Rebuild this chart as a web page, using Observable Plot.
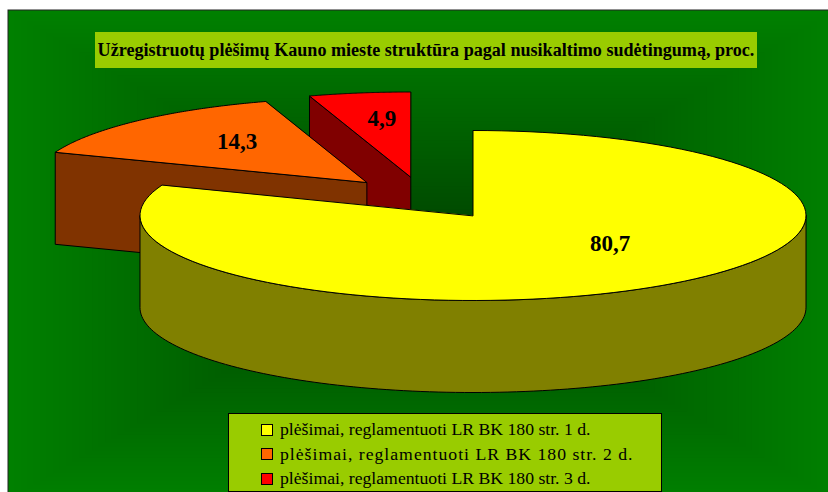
<!DOCTYPE html>
<html lang="lt">
<head>
<meta charset="utf-8">
<script src="https://cdn.jsdelivr.net/npm/d3@7"></script>
<script src="https://cdn.jsdelivr.net/npm/@observablehq/plot@0.6"></script>
<style>
  html, body { margin: 0; padding: 0; background: #fff; }
  #chart { position: relative; width: 828px; height: 492px; overflow: hidden; font-family: "Liberation Serif", serif; }
  #chart svg { position: absolute; left: 0; top: 0; }
  #title { position: absolute; left: 95px; top: 32px; width: 662px; height: 36px; line-height: 36px; background: #99cc00; color: #000;
           font-weight: bold; font-size: 18.1px; text-align: center; white-space: nowrap; }
  #legend { position: absolute; left: 228px; top: 413px; width: 432px; height: 77px; background: #99cc00; border: 1px solid #000; box-sizing: content-box; }
  .row { position: absolute; left: 32px; display: flex; align-items: center; height: 16px; white-space: nowrap; color: #000; }
  .sw { width: 10px; height: 10px; border: 1px solid #000; margin-right: 7px; flex: none; }
</style>
</head>
<body>
<div id="chart"></div>
<script>
// Data
const titleText = "Užregistruotų plėšimų Kauno mieste struktūra pagal nusikaltimo sudėtingumą, proc.";
const categories = ["plėšimai, reglamentuoti LR BK 180 str. 1 d.", "plėšimai, reglamentuoti LR BK 180 str. 2 d.", "plėšimai, reglamentuoti LR BK 180 str. 3 d."];
const values = [80.7, 14.3, 4.9];
const valueLabels = ["80,7", "14,3", "4,9"];
const topColors = ["#ffff00", "#ff6600", "#ff0000"];
const wallColors = ["#808000", "#803300", "#800000"];

// Layout of the projected pie
const rx = 333, ry = 85, depth = 92;
const apexX = [472.5, 366, 410];
const apexY = [215, 182, 176.5];
const labelX = [0.725, 0.565, 0.56];
const labelY = [0.40, 0.67, 0.70];
const legendFont = [[17.7, 0], [17.7, 1], [17.7, 0]];
const bgFrame = {x1: 8, x2: 836, y1: 10, y2: 500};

// Angles run clockwise from north
const total = d3.sum(values);
const cum = d3.cumsum(values);
const slices = values.map((v, i) => ({
  i, a0: (cum[i] - v) / total * 2 * Math.PI, a1: cum[i] / total * 2 * Math.PI
}));
const pt = (s, a, r = 1, dz = 0) => ({
  x: apexX[s.i] + rx * r * Math.sin(a),
  y: apexY[s.i] - ry * r * Math.cos(a) + dz
});
const arc = (s, a0, a1, dz = 0) => d3.range(0, 121).map(k => pt(s, a0 + (a1 - a0) * k / 120, 1, dz));
const topFace = s => [pt(s, 0, 0), ...arc(s, s.a0, s.a1)];
const radialWall = s => [pt(s, 0, 0), pt(s, s.a0), pt(s, s.a0, 1, depth), pt(s, 0, 0, depth)];
const rimWall = s => {
  const a0 = Math.PI / 2, a1 = 1.5 * Math.PI;
  return [...arc(s, a0, a1), ...arc(s, a1, a0, depth)];
};
const poly = (pts, fill) => Plot.line(pts, {x: "x", y: "y", curve: "linear-closed", fill, stroke: "#000", strokeWidth: 1});

// Rectangular "from centre" background gradient
const steps = d3.range(64, 0, -1).map(k => {
  const t = k / 64, cx = (bgFrame.x1 + bgFrame.x2) / 2, cy = (bgFrame.y1 + bgFrame.y2) / 2;
  const hw = (bgFrame.x2 - bgFrame.x1) / 2 * t, hh = (bgFrame.y2 - bgFrame.y1) / 2 * t;
  return {x1: cx - hw, x2: cx + hw, y1: cy - hh, y2: cy + hh, c: `rgb(0,${Math.round(64 + 64 * t)},0)`};
});

const [yellow, orange, red] = slices;
const labels = slices.map(s => {
  const mid = (s.a0 + s.a1) / 2;
  return {
    x: apexX[s.i] + rx * labelX[s.i] * Math.sin(mid),
    y: apexY[s.i] - ry * labelY[s.i] * Math.cos(mid),
    t: valueLabels[s.i]
  };
});

const plot = Plot.plot({
  width: 828, height: 492, margin: 0,
  x: {axis: null, domain: [0, 828], range: [0, 828]},
  y: {axis: null, domain: [0, 492], range: [0, 492]},
  style: {background: "#fff"},
  marks: [
    Plot.rect(steps, {x1: "x1", x2: "x2", y1: "y1", y2: "y2", fill: {value: "c", scale: null}}),
    Plot.rect([bgFrame], {x1: "x1", x2: "x2", y1: "y1", y2: "y2", fill: "none", stroke: "#222", strokeWidth: 1}),
    poly(radialWall(red), wallColors[2]),
    poly(topFace(red), topColors[2]),
    poly(radialWall(orange), wallColors[1]),
    poly(topFace(orange), topColors[1]),
    poly(rimWall(yellow), wallColors[0]),
    poly(topFace(yellow), topColors[0]),
    Plot.text(labels, {x: "x", y: "y", text: "t", fontFamily: "Liberation Serif", fontWeight: "bold", fontSize: 23, fill: "#000"})
  ]
});

const chart = document.getElementById("chart");
chart.appendChild(plot);
const titleBox = document.createElement("div");
titleBox.id = "title";
titleBox.textContent = titleText;
chart.appendChild(titleBox);
const legendBox = document.createElement("div");
legendBox.id = "legend";
categories.forEach((c, i) => {
  const row = document.createElement("div");
  row.className = "row";
  row.style.top = (7.5 + i * 24.7) + "px";
  const sw = document.createElement("span");
  sw.className = "sw";
  sw.style.background = topColors[i];
  const tx = document.createElement("span");
  tx.textContent = c;
  tx.style.fontSize = legendFont[i][0] + "px";
  tx.style.letterSpacing = legendFont[i][1] + "px";
  row.append(sw, tx);
  legendBox.appendChild(row);
});
chart.appendChild(legendBox);
</script>
</body>
</html>
